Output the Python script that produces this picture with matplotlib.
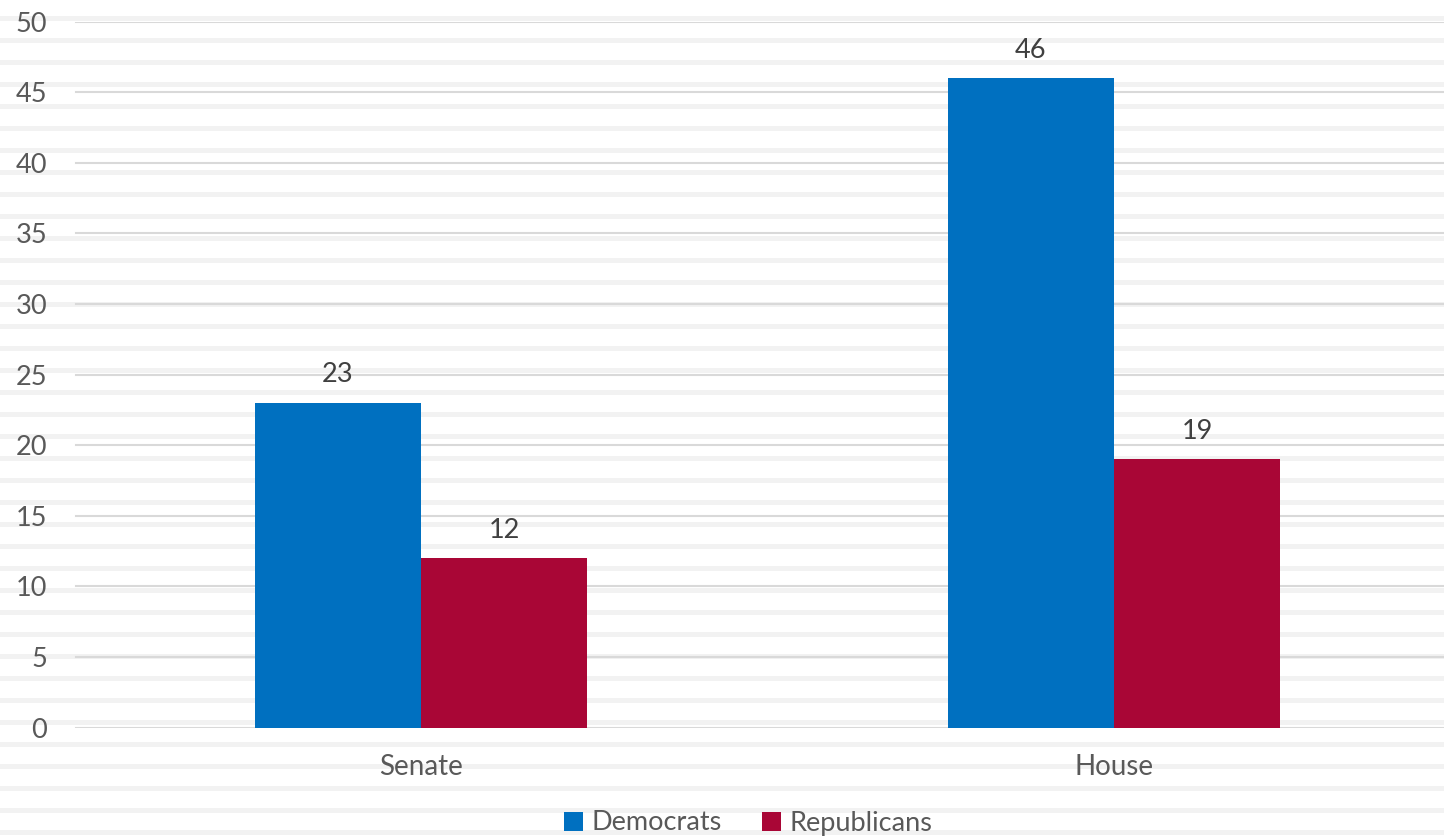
import matplotlib
matplotlib.use("Agg")
import matplotlib.pyplot as plt
from matplotlib.patches import Rectangle
from matplotlib.transforms import ScaledTranslation
import numpy as np

categories = ['Senate', 'House']
democrats = [23, 46]
republicans = [12, 19]
y_ticks = [0, 5, 10, 15, 20, 25, 30, 35, 40, 45, 50]

blue = '#0070C0'
red = '#A90636'
grey_text = '#595959'

plt.rcParams['font.family'] = ['Lato', 'DejaVu Sans']

W, H = 1444, 839
fig = plt.figure(figsize=(W / 100, H / 100), dpi=100)

# striped background
for top in range(16, H, 22):
    fig.add_artist(Rectangle((0, 1 - (top + 5) / H), 1, 5 / H,
                             transform=fig.transFigure, color='#F2F2F2',
                             zorder=-10, lw=0))

ax = fig.add_axes([0, 1 - 727.5 / H, 1, (727.5 - 21.5) / H])
ax.patch.set_alpha(0)

x = np.arange(len(categories))
bw = 0.24
b1 = ax.bar(x - bw / 2, democrats, bw, color=blue, label='Democrats', zorder=3)
b2 = ax.bar(x + bw / 2, republicans, bw, color=red, label='Republicans', zorder=3)

for bars in (b1, b2):
    for r in bars:
        ax.annotate(str(int(r.get_height())), (r.get_x() + r.get_width() / 2, r.get_height()),
                    xytext=(0, 11), textcoords='offset points', ha='center', va='bottom',
                    fontsize=19.5, color='#404040')

# category spacing 693px, first category centred at 421px
ax.set_xlim(-421 / 693, (W - 421) / 693)
ax.set_ylim(0, 50)
ax.set_yticks(y_ticks)
ax.set_xticks(x)
ax.set_xticklabels(categories)

for v in y_ticks:
    ax.axhline(v, xmin=76 / W, color='#D9D9D9', lw=1.5, zorder=1)

for s in ax.spines.values():
    s.set_visible(False)
ax.tick_params(axis='both', length=0, labelsize=19.5, colors=grey_text)
ax.tick_params(axis='x', pad=19, labelsize=20)
ax.tick_params(axis='y', pad=0)
for lbl in ax.get_yticklabels():
    lbl.set_horizontalalignment('right')
    lbl.set_transform(ax.get_yaxis_transform(which='tick1') +
                      ScaledTranslation(47 / 100, 0, fig.dpi_scale_trans))

fig.legend(loc='center', bbox_to_anchor=(748 / W, 1 - 823 / H), ncol=2, frameon=False,
           fontsize=19.5, handlelength=0.7, handleheight=0.7, handletextpad=0.3,
           columnspacing=1.5, labelcolor=grey_text)

fig.savefig('out.png', dpi=100)
